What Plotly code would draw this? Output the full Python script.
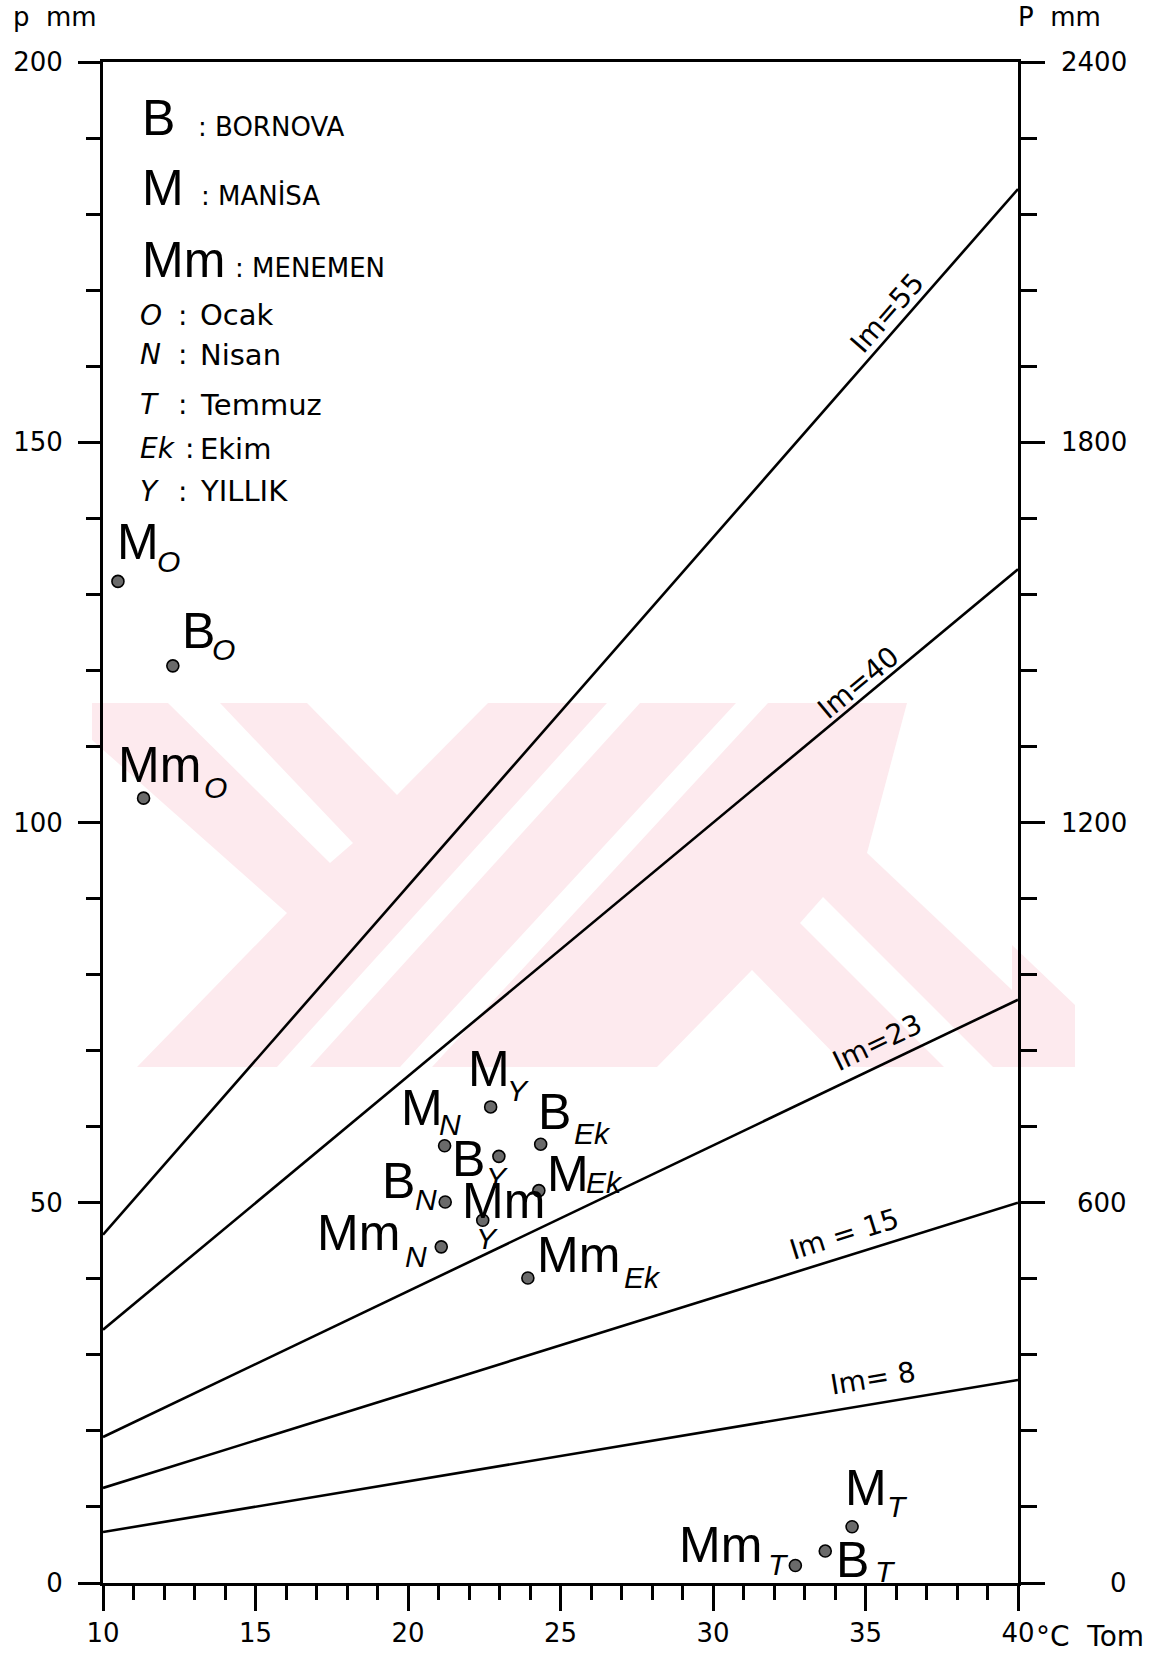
import math
import plotly.graph_objects as go

# ---------------- data ----------------
x_range = [10, 40]          # Tom (°C)
p_range = [0, 200]          # p mm (monthly)
P_range = [0, 2400]         # P mm (annual)

stations = ["M", "B", "Mm", "M", "B", "Mm", "M", "B", "Mm", "M", "B", "Mm", "M", "B", "Mm"]
periods = ["O", "O", "O", "N", "N", "N", "T", "T", "T", "Ek", "Ek", "Ek", "Y", "Y", "Y"]
temps = [10.49, 12.29, 11.33, 21.20, 21.22, 21.09, 34.56, 33.68, 32.70, 24.29, 24.35, 23.93, 22.71, 22.98, 22.45]
precip = [131.7, 120.6, 103.2, 57.5, 50.1, 44.2, 7.4, 4.2, 2.3, 51.6, 57.7, 40.1, 62.6, 56.1, 47.7]

im_names = ["Im=55", "Im=40", "Im=23", "Im = 15", "Im= 8"]
im_t = [10, 40]
im_p_start = [45.8, 33.3, 19.2, 12.5, 6.7]
im_p_end = [183.3, 133.3, 76.7, 50.0, 26.7]

left_ticks = [0, 50, 100, 150, 200]
right_ticks = [0, 600, 1200, 1800, 2400]
right_ticktext = ["0", "600", "1200", "1800", "2400"]
x_ticks = [10, 15, 20, 25, 30, 35, 40]
x_ticktext = ["10", "15", "20", "25", "30", "35", "40"]

legend_big = ["B", "M", "Mm"]
legend_big_names = [": BORNOVA", ": MANİSA", ": MENEMEN"]
legend_codes = ["O", "N", "T", "Ek", "Y"]
legend_code_names = ["Ocak", "Nisan", "Temmuz", "Ekim", "YILLIK"]

# ---------------- layout geometry / styles ----------------
W, H = 1160, 1658
L, R, T, B = 103, 142, 62, 75
PW = W - L - R
PH = H - T - B
BIG = "Liberation Sans"
SMALL = "DejaVu Sans"


def paper(xpx, ypx):
    return (xpx - L) / PW, (H - B - ypx) / PH


# label offsets in px relative to dot: (main_dx, main_dy, sub_dx, sub_dy), dy positive = down
label_offsets = [
    (4, -37, 40, -20), (14, -33, 40, -16), (-21, -31, 61, -11),
    (-39, -36, -5, -21), (-58, -19, -29, -2), (-119, -12, -35, 10),
    (-2, -37, 36, -20), (16, 11, 51, 20), (-111, -19, -26, -1),
    (13, -15, 48, -8), (2, -30, 34, -11), (14, -21, 97, -1),
    (-18, -36, 17, -16), (-42, 5, -12, 21), (-16, -17, -6, 18),
]
im_label_t = [35.73, 34.78, 35.40, 34.28, 35.23]
im_label_lift = [25, 19, 24, 23, 26]

fig = go.Figure()

# watermark (faint)
WM_PINK = "#fdeaee"
wm_pink_polys = [
    [(92, 703), (1012, 703), (1012, 1067), (92, 1067)],
    [(1012, 945), (1075, 1005), (1075, 1067), (1012, 1067)],
]
wm_white_polys = [
    [(168, 703), (220, 703), (353, 843), (330, 863)],
    [(307, 703), (488, 703), (397, 795)],
    [(92, 740), (287, 913), (137, 1067), (92, 1067)],
    [(277, 1067), (310, 1067), (640, 703), (607, 703)],
    [(400, 1067), (432, 1067), (768, 703), (736, 703)],
    [(907, 703), (1012, 703), (1012, 990), (867, 853)],
    [(752, 970), (657, 1067), (847, 1067)],
    [(800, 923), (823, 897), (993, 1067), (944, 1067)],
]
shapes = []
for polys, col in ((wm_pink_polys, WM_PINK), (wm_white_polys, "white")):
    for poly in polys:
        pts = [paper(px, py) for px, py in poly]
        path = "M " + " L ".join(f"{a:.5f},{b:.5f}" for a, b in pts) + " Z"
        shapes.append(dict(type="path", xref="paper", yref="paper", path=path,
                           fillcolor=col, line=dict(width=0), layer="below"))

# Im lines
for i in range(len(im_names)):
    fig.add_trace(go.Scatter(x=im_t, y=[im_p_start[i], im_p_end[i]], mode="lines",
                             line=dict(color="black", width=2.6), hoverinfo="skip"))

# points
fig.add_trace(go.Scatter(x=temps, y=precip, mode="markers",
                         marker=dict(size=12, color="#6a6a6a", line=dict(color="black", width=1.6)),
                         hoverinfo="skip"))

ann = []
# point labels
for i in range(len(temps)):
    mdx, mdy, sdx, sdy = label_offsets[i]
    ann.append(dict(x=temps[i], y=precip[i], xref="x", yref="y", text=stations[i],
                    showarrow=False, xanchor="left", yanchor="middle",
                    xshift=mdx - 7, yshift=-mdy + 2, font=dict(family=BIG, size=50, color="black")))
    ann.append(dict(x=temps[i], y=precip[i], xref="x", yref="y", text=f"<i>{periods[i]}</i>",
                    showarrow=False, xanchor="left", yanchor="middle",
                    xshift=sdx - 3, yshift=-sdy, font=dict(family=BIG, size=30, color="black")))

# Im labels
px_per_t = PW / (x_range[1] - x_range[0])
px_per_p = PH / (p_range[1] - p_range[0])
for i in range(len(im_names)):
    t = im_label_t[i]
    slope = (im_p_end[i] - im_p_start[i]) / (im_t[1] - im_t[0])
    y_on = im_p_start[i] + slope * (t - im_t[0])
    ang = -math.degrees(math.atan2(slope * px_per_p, px_per_t))
    ann.append(dict(x=t, y=y_on, xref="x", yref="y", text=im_names[i], showarrow=False,
                    xanchor="center", yanchor="middle", yshift=im_label_lift[i], textangle=ang,
                    font=dict(family=SMALL, size=28, color="black")))

# legend block
big_centers = [118, 188, 260]
big_name_left = [196, 199, 233]
big_name_centers = [127, 195, 268]
for i in range(len(legend_big)):
    xp, yp = paper(140, big_centers[i])
    ann.append(dict(x=xp, y=yp, xref="paper", yref="paper", text=legend_big[i], showarrow=False,
                    xanchor="left", yanchor="middle", font=dict(family=BIG, size=50, color="black")))
    xp, yp = paper(big_name_left[i], big_name_centers[i])
    ann.append(dict(x=xp, y=yp, xref="paper", yref="paper", text=legend_big_names[i], showarrow=False,
                    xanchor="left", yanchor="middle", font=dict(family=SMALL, size=26, color="black")))

code_centers = [315, 355, 405, 449, 491]
colon_x = [176, 176, 176, 183, 176]
for i in range(len(legend_codes)):
    xp, yp = paper(138, code_centers[i])
    ann.append(dict(x=xp, y=yp, xref="paper", yref="paper", text=f"<i>{legend_codes[i]}</i>",
                    showarrow=False, xanchor="left", yanchor="middle",
                    font=dict(family=SMALL, size=28, color="black")))
    xp, yp = paper(colon_x[i], code_centers[i])
    ann.append(dict(x=xp, y=yp, xref="paper", yref="paper", text=":", showarrow=False,
                    xanchor="left", yanchor="middle", font=dict(family=SMALL, size=28, color="black")))
    xp, yp = paper(198, code_centers[i])
    ann.append(dict(x=xp, y=yp, xref="paper", yref="paper", text=legend_code_names[i],
                    showarrow=False, xanchor="left", yanchor="middle",
                    font=dict(family=SMALL, size=29, color="black")))

# right axis tick labels (right aligned)
for v, txt in zip(right_ticks, right_ticktext):
    xp, _ = paper(1129, 0)
    ann.append(dict(x=xp, y=v, xref="paper", yref="y2", text=txt, showarrow=False,
                    xanchor="right", yanchor="middle", font=dict(family=SMALL, size=26, color="black")))

# axis titles
xp, yp = paper(11, 0)
ann.append(dict(x=xp, y=yp, xref="paper", yref="paper", text="p\u00a0\u00a0mm", showarrow=False,
                xanchor="left", yanchor="top", font=dict(family=SMALL, size=26, color="black")))
xp, yp = paper(1016, 0)
ann.append(dict(x=xp, y=yp, xref="paper", yref="paper", text="P\u00a0\u00a0mm", showarrow=False,
                xanchor="left", yanchor="top", font=dict(family=SMALL, size=26, color="black")))
xp, yp = paper(1034, 1636)
ann.append(dict(x=xp, y=yp, xref="paper", yref="paper", text="°C\u00a0\u00a0Tom", showarrow=False,
                xanchor="left", yanchor="middle", font=dict(family=SMALL, size=28, color="black")))

axis_common = dict(showgrid=False, zeroline=False, showline=True, linecolor="black", linewidth=3,
                   ticks="outside", tickcolor="black", tickwidth=3, automargin=False,
                   tickfont=dict(family=SMALL, size=26, color="black"))

fig.update_layout(
    width=W, height=H,
    margin=dict(l=L, r=R, t=T, b=B, pad=0, autoexpand=False),
    plot_bgcolor="white", paper_bgcolor="white",
    showlegend=False,
    shapes=shapes,
    annotations=ann,
    xaxis=dict(range=x_range, tickvals=x_ticks, ticktext=x_ticktext, ticklen=25, mirror=True,
               ticklabelstandoff=0,
               minor=dict(dtick=1, tick0=10, ticks="outside", ticklen=14, tickwidth=2.5, tickcolor="black"),
               **axis_common),
    yaxis=dict(range=p_range, tickvals=left_ticks, ticklen=22, ticklabelstandoff=10,
               minor=dict(dtick=10, tick0=0, ticks="outside", ticklen=14, tickwidth=2.5, tickcolor="black"),
               **axis_common),
    yaxis2=dict(range=P_range, overlaying="y", side="right", tickvals=right_ticks, ticklen=24,
                showticklabels=False,
                minor=dict(dtick=120, tick0=0, ticks="outside", ticklen=16, tickwidth=2.5, tickcolor="black"),
                **axis_common),
)

fig.write_html("out.html", config={"displayModeBar": False},
               post_script="document.body.style.margin='0px';document.body.style.overflow='hidden';")
